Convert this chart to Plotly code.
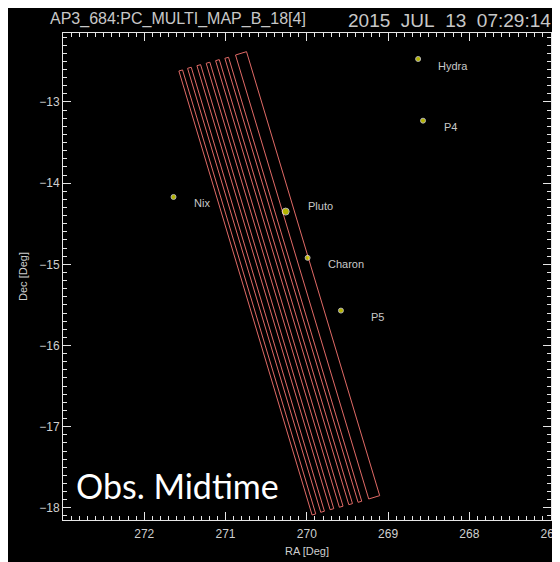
import plotly.graph_objects as go

# moons / bodies (RA, Dec in deg)
moon_names = ["Hydra", "P4", "Nix", "Pluto", "Charon", "P5"]
moon_ra = [268.63, 268.57, 271.64, 270.26, 269.99, 269.58]
moon_dec = [-12.47, -13.23, -14.17, -14.35, -14.92, -15.57]
label_ra = [268.41, 268.34, 271.41, 270.01, 269.76, 269.24]
label_dec = [-12.56, -13.31, -14.24, -14.28, -14.99, -15.65]

# scan footprints, corners TL, TR, BR, BL
strip_ra = [
    [271.574, 271.529, 269.890, 269.935],
    [271.467, 271.422, 269.783, 269.828],
    [271.352, 271.307, 269.668, 269.713],
    [271.238, 271.193, 269.554, 269.599],
    [271.122, 271.077, 269.438, 269.483],
    [271.008, 270.963, 269.324, 269.369],
    [270.877, 270.742, 269.103, 269.238],
]
strip_dec = [
    [-12.618, -12.605, -18.075, -18.088],
    [-12.585, -12.572, -18.042, -18.055],
    [-12.553, -12.540, -18.010, -18.023],
    [-12.523, -12.510, -17.980, -17.993],
    [-12.491, -12.478, -17.948, -17.961],
    [-12.462, -12.449, -17.919, -17.932],
    [-12.421, -12.380, -17.850, -17.891],
]

x_ticks = [272, 271, 270, 269, 268, 267]
y_ticks = [-13, -14, -15, -16, -17, -18]

fig = go.Figure()

for ra, dec in zip(strip_ra, strip_dec):
    fig.add_trace(go.Scatter(x=ra + ra[:1], y=dec + dec[:1], mode="lines",
                             line=dict(color="#e06a66", width=1), hoverinfo="skip"))

fig.add_trace(go.Scatter(
    x=moon_ra, y=moon_dec, mode="markers",
    marker=dict(color="#ffff00", size=[7 if n == "Pluto" else 5 for n in moon_names]),
    text=moon_names, hoverinfo="text"))

for n, lx, ly in zip(moon_names, label_ra, label_dec):
    fig.add_annotation(x=lx, y=ly, text=n, showarrow=False, xanchor="left",
                       font=dict(family="Liberation Sans", size=11, color="#c8c8c8"))

# page has 8px body margin, so paper coords are relative to a shifted plot
fig.add_annotation(xref="paper", yref="paper", x=-0.031, y=1.051, xanchor="left",
                   yanchor="top", text="AP3_684:PC_MULTI_MAP_B_18[4]", showarrow=False,
                   font=dict(family="Liberation Sans", size=16, color="#c8c8c8"))
fig.add_annotation(xref="paper", yref="paper", x=0.580, y=1.051, xanchor="left",
                   yanchor="top", text="2015&nbsp;&nbsp;JUL&nbsp;&nbsp;13&nbsp;&nbsp;07:29:14",
                   showarrow=False,
                   font=dict(family="Liberation Sans", size=19, color="#c8c8c8"))
fig.add_annotation(xref="paper", yref="paper", x=0.022, y=0.071, xanchor="left",
                   yanchor="middle", text="Obs. Midtime", showarrow=False,
                   font=dict(family="Lato", size=34, color="white"))

axis_common = dict(showgrid=False, zeroline=False, showline=True, linecolor="#e6e6e6",
                   linewidth=1, mirror="allticks", ticks="inside", ticklen=8,
                   tickcolor="#e6e6e6", tickwidth=1, automargin=False,
                   minor=dict(ticks="inside", ticklen=4, dtick=0.1, tickcolor="#e6e6e6"),
                   tickfont=dict(family="Liberation Sans", size=12, color="#cfcfcf"))

fig.update_xaxes(range=[273, 266.995], tickvals=x_ticks, ticklabelstandoff=3,
                 title=dict(text="RA [Deg]", font=dict(family="Liberation Sans", size=11, color="#cfcfcf"),
                            standoff=6),
                 **axis_common)
fig.update_yaxes(range=[-18.15, -12.15], tickvals=y_ticks,
                 title=dict(text="Dec [Deg]", font=dict(family="Liberation Sans", size=11, color="#cfcfcf"),
                            standoff=9),
                 **axis_common)

fig.update_layout(width=560, height=554, showlegend=False,
                  paper_bgcolor="black", plot_bgcolor="black",
                  margin=dict(l=55, r=17, t=25, b=42))

fig.write_html("out.html")
